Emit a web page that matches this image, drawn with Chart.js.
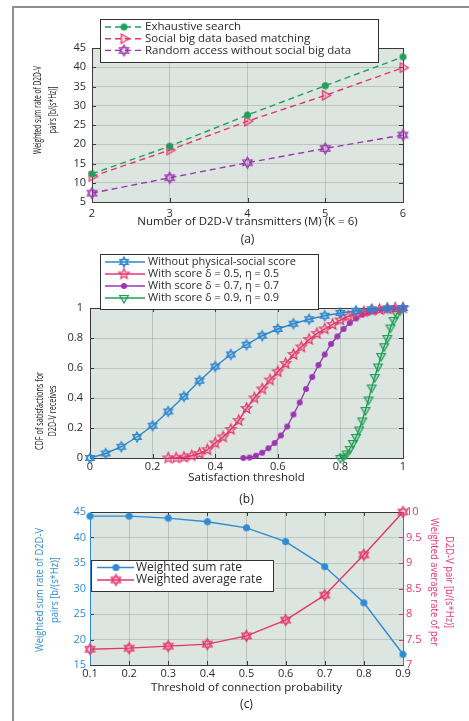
<!DOCTYPE html>
<html>
<head>
<meta charset="utf-8">
<script src="https://cdn.jsdelivr.net/npm/chart.js@4.4.0/dist/chart.umd.min.js"></script>
<style>
  html, body { margin: 0; padding: 0; background: #fff; }
  body { width: 469px; height: 721px; position: relative; overflow: hidden; }
  .frame { position: absolute; left: 12px; top: 6px; width: 470px; height: 720px;
           border-left: 2px solid #8e8e8e; border-top: 2px solid #8e8e8e; }
  canvas { position: absolute; left: 0; }
</style>
</head>
<body>
<div class="frame"></div>
<canvas id="chartA" width="469" height="250" style="top:0px"></canvas>
<canvas id="chartB" width="469" height="265" style="top:245px"></canvas>
<canvas id="chartC" width="469" height="221" style="top:500px"></canvas>
<script>
// (a) weighted sum rate vs number of transmitters
const transmitters = [2, 3, 4, 5, 6];
const exhaustiveRate = [12.3, 19.5, 27.6, 35.2, 42.7];
const socialRate = [11.6, 18.5, 26.0, 32.7, 39.9];
const randomRate = [7.3, 11.3, 15.2, 18.9, 22.4];

// (b) CDF of satisfaction
const thrNoScore = [0, 0.05, 0.1, 0.15, 0.2, 0.25, 0.3, 0.35, 0.4, 0.45, 0.5, 0.55, 0.6, 0.65, 0.7, 0.75, 0.8, 0.85, 0.9, 0.95, 1];
const cdfNoScore = [0, 0.03, 0.075, 0.14, 0.215, 0.31, 0.41, 0.515, 0.61, 0.69, 0.755, 0.815, 0.86, 0.895, 0.925, 0.948, 0.967, 0.982, 0.992, 0.998, 1];
const thrScore05 = [0.25, 0.275, 0.3, 0.325, 0.35, 0.375, 0.4, 0.425, 0.45, 0.475, 0.5, 0.525, 0.55, 0.575, 0.6, 0.625, 0.65, 0.675, 0.7, 0.725, 0.75, 0.775, 0.8, 0.825, 0.85, 0.875, 0.9, 0.925, 0.95, 0.975, 1];
const cdfScore05 = [0, 0, 0.005, 0.015, 0.03, 0.055, 0.1, 0.14, 0.19, 0.25, 0.33, 0.4, 0.46, 0.52, 0.575, 0.63, 0.69, 0.74, 0.79, 0.83, 0.86, 0.89, 0.92, 0.945, 0.96, 0.975, 0.985, 0.99, 0.995, 1, 1];
const thrScore07 = [0.49, 0.51, 0.53, 0.55, 0.57, 0.59, 0.61, 0.63, 0.65, 0.67, 0.69, 0.71, 0.73, 0.75, 0.77, 0.79, 0.81, 0.83, 0.85, 0.87, 0.89, 0.91, 0.93, 0.95, 0.97, 0.99, 1];
const cdfScore07 = [0, 0.003, 0.015, 0.035, 0.065, 0.1, 0.15, 0.21, 0.29, 0.37, 0.46, 0.54, 0.62, 0.69, 0.76, 0.81, 0.86, 0.9, 0.93, 0.955, 0.97, 0.98, 0.99, 0.995, 1, 1, 1];
const thrScore09 = [0.8, 0.81, 0.82, 0.83, 0.84, 0.85, 0.86, 0.87, 0.88, 0.89, 0.9, 0.91, 0.92, 0.93, 0.94, 0.95, 0.96, 0.97, 0.98, 0.99, 1];
const cdfScore09 = [0, 0.01, 0.03, 0.06, 0.1, 0.14, 0.19, 0.25, 0.32, 0.39, 0.47, 0.54, 0.61, 0.68, 0.745, 0.8, 0.87, 0.92, 0.96, 0.985, 1];

// (c) rates vs threshold of connection probability
const connThreshold = ['0.1', '0.2', '0.3', '0.4', '0.5', '0.6', '0.7', '0.8', '0.9'];
const sumRate = [44.2, 44.2, 43.8, 43.1, 41.9, 39.2, 34.3, 27.2, 17.1];
const avgRate = [7.31, 7.33, 7.37, 7.41, 7.57, 7.88, 8.37, 9.16, 10.0];

const FONT = "'Open Sans', 'Noto Sans', sans-serif";
Chart.defaults.font.family = FONT;
Chart.defaults.color = '#2b2b2b';

const GREEN = '#1f9f57', PINK = '#e6356c', PURPLE = '#9a37b0', BLUE = '#2f87cf';
const BLUE_C = '#2f8bd3', PINK_C = '#e6356c';

function polygon(g, pts) {
  pts.forEach((p, i) => i ? g.lineTo(p[0], p[1]) : g.moveTo(p[0], p[1]));
  g.closePath();
}
function triangle(g, r, a) {
  const pts = [];
  for (let k = 0; k < 3; k++) {
    const t = a + k * 2 * Math.PI / 3;
    pts.push([r * Math.cos(t), r * Math.sin(t)]);
  }
  polygon(g, pts);
}

// marker images used as pointStyle
function makeMarker(shape, color, r, filled) {
  const s = Math.ceil(r * 2 + 4);
  const c = document.createElement('canvas');
  c.width = s; c.height = s;
  const g = c.getContext('2d');
  g.translate(s / 2, s / 2);
  g.beginPath();
  if (shape === 'circle') g.arc(0, 0, r, 0, Math.PI * 2);
  else if (shape === 'triRight') triangle(g, r, 0);
  else if (shape === 'triDown') triangle(g, r, Math.PI / 2);
  else if (shape === 'hexagram') { triangle(g, r, -Math.PI / 2); triangle(g, r, Math.PI / 2); }
  else if (shape === 'pentagram') {
    const pts = [];
    for (let k = 0; k < 10; k++) {
      const t = -Math.PI / 2 + k * Math.PI / 5;
      const rr = k % 2 ? r * 0.45 : r;
      pts.push([rr * Math.cos(t), rr * Math.sin(t)]);
    }
    polygon(g, pts);
  }
  g.fillStyle = color;
  g.strokeStyle = color;
  g.lineWidth = 1.2;
  if (filled) {
    g.fill();
  } else {
    g.globalAlpha = 0.2;
    g.fill();
    g.globalAlpha = 1;
    g.stroke();
  }
  return c;
}

// plot background, box, inner ticks, squeezed y titles and a legend inside the figure
const plotFrame = {
  id: 'plotFrame',
  beforeDraw(chart) {
    const { ctx, chartArea: a } = chart;
    ctx.save();
    ctx.fillStyle = '#dde5e1';
    ctx.fillRect(a.left, a.top, a.width, a.height);
    ctx.restore();
  },
  beforeDatasetsDraw(chart) {
    const { ctx, chartArea: a, scales } = chart;
    ctx.save();
    ctx.lineWidth = 1;
    ctx.strokeStyle = '#3a3a3a';
    ctx.beginPath();
    scales.x.ticks.forEach((t, i) => {
      const px = Math.round(scales.x.getPixelForTick(i)) + 0.5;
      ctx.moveTo(px, a.bottom); ctx.lineTo(px, a.bottom - 4);
      ctx.moveTo(px, a.top); ctx.lineTo(px, a.top + 4);
    });
    const twin = !!scales.y2;
    scales.y.ticks.forEach((t, i) => {
      const py = Math.round(scales.y.getPixelForTick(i)) + 0.5;
      ctx.moveTo(a.left, py); ctx.lineTo(a.left + 4, py);
      if (!twin) { ctx.moveTo(a.right, py); ctx.lineTo(a.right - 4, py); }
    });
    ctx.stroke();
    if (twin) {
      ctx.beginPath();
      ctx.strokeStyle = scales.y2.options.ticks.color;
      scales.y2.ticks.forEach((t, i) => {
        const py = Math.round(scales.y2.getPixelForTick(i)) + 0.5;
        ctx.moveTo(a.right, py); ctx.lineTo(a.right - 4, py);
      });
      ctx.stroke();
    }
    ctx.strokeStyle = '#3a3a3a';
    ctx.strokeRect(Math.round(a.left) + 0.5, Math.round(a.top) + 0.5, Math.round(a.width), Math.round(a.height));
    if (twin) {
      ctx.strokeStyle = scales.y.options.ticks.color;
      ctx.beginPath(); ctx.moveTo(Math.round(a.left) + 0.5, a.top); ctx.lineTo(Math.round(a.left) + 0.5, a.bottom); ctx.stroke();
      ctx.strokeStyle = scales.y2.options.ticks.color;
      ctx.beginPath(); ctx.moveTo(Math.round(a.right) + 0.5, a.top); ctx.lineTo(Math.round(a.right) + 0.5, a.bottom); ctx.stroke();
    }
    ctx.restore();
  },
  afterDraw(chart, args, opts) {
    const ctx = chart.ctx;
    // condensed rotated axis titles
    (opts.yTitles || []).forEach((t) => {
      ctx.save();
      ctx.font = '11px ' + FONT;
      ctx.fillStyle = t.color;
      ctx.textAlign = 'center';
      ctx.textBaseline = 'middle';
      const k = t.length / ctx.measureText(t.lines[0]).width;
      t.lines.forEach((line, i) => {
        ctx.save();
        ctx.translate(t.x[i], t.cy);
        ctx.rotate(t.rot);
        ctx.scale(k, 1);
        ctx.fillText(line, 0, 0);
        ctx.restore();
      });
      ctx.restore();
    });
    const lg = opts.legend;
    if (!lg) return;
    const [x0, y0, x1, y1] = lg.box;
    ctx.save();
    ctx.fillStyle = '#fff';
    ctx.fillRect(x0, y0, x1 - x0, y1 - y0);
    ctx.strokeStyle = '#333';
    ctx.lineWidth = 1;
    ctx.strokeRect(x0 + 0.5, y0 + 0.5, x1 - x0, y1 - y0);
    ctx.font = lg.font;
    ctx.textBaseline = 'middle';
    chart.data.datasets.forEach((ds, i) => {
      const y = lg.firstRow + i * lg.rowGap;
      ctx.strokeStyle = ds.borderColor;
      ctx.lineWidth = ds.borderWidth;
      ctx.setLineDash(ds.borderDash || []);
      ctx.beginPath(); ctx.moveTo(lg.lineX[0], y); ctx.lineTo(lg.lineX[1], y); ctx.stroke();
      ctx.setLineDash([]);
      const img = ds.pointStyle;
      ctx.drawImage(img, lg.markerX - img.width / 2, y - img.height / 2);
      ctx.fillStyle = '#2b2b2b';
      ctx.fillText(ds.label, lg.textX, y);
    });
    ctx.restore();
  }
};

function grid() {
  return { color: 'rgba(110,122,116,0.3)', lineWidth: 1, drawTicks: false };
}
function caption(text, padBottom) {
  return { display: true, text: text, position: 'bottom', fullSize: false, color: '#222',
           font: { size: 12, weight: 'normal', lineHeight: 1.2 }, padding: { top: 0, bottom: padBottom } };
}
function plainNumber(v) {
  return String(Math.round(v * 100) / 100);
}
function points(xs, ys) {
  return xs.map((x, i) => ({ x: x, y: ys[i] }));
}
function series(label, data, color, marker, dashed) {
  return { label: label, data: data, borderColor: color, backgroundColor: color, borderWidth: 1.4,
           borderDash: dashed ? [6, 4] : [], pointStyle: marker, pointRadius: 4, tension: 0,
           fill: false, clip: false };
}

// (a)
new Chart(document.getElementById('chartA'), {
  type: 'line',
  data: {
    datasets: [
      series('Exhaustive search', points(transmitters, exhaustiveRate), GREEN, makeMarker('circle', GREEN, 3.5, true), true),
      series('Social big data based matching', points(transmitters, socialRate), PINK, makeMarker('triRight', PINK, 5.5, false), true),
      series('Random access without social big data', points(transmitters, randomRate), PURPLE, makeMarker('hexagram', PURPLE, 5.5, false), true)
    ]
  },
  options: {
    responsive: false, animation: false, events: [], devicePixelRatio: 1,
    layout: { padding: { top: 48, right: 66, left: 0, bottom: 0 } },
    plugins: {
      legend: { display: false },
      title: caption('(a)', 2.8),
      plotFrame: {
        legend: { box: [100, 19, 378, 62], firstRow: 27, rowGap: 11.7, lineX: [105, 142],
                  markerX: 124, textX: 145, font: "11.5px " + FONT },
        yTitles: [{ lines: ['Weighted sum rate of D2D-V', 'pairs [b/(s*Hz)]'], x: [38, 53], cy: 110,
                    rot: -Math.PI / 2, length: 88, color: '#222' }]
      }
    },
    scales: {
      x: {
        type: 'linear', min: 2, max: 6,
        ticks: { stepSize: 1, padding: 5, font: { size: 11 }, color: '#2b2b2b' },
        grid: grid(), border: { display: false },
        title: { display: true, text: 'Number of D2D-V transmitters (M) (K = 6)', color: '#222',
                 font: { size: 11.5, lineHeight: 1.2 }, padding: { top: 0, bottom: 3.9 } },
        afterFit(s) { s.height = 30.8; }
      },
      y: {
        min: 5, max: 45,
        ticks: { stepSize: 5, padding: 6, font: { size: 11 }, color: '#2b2b2b' },
        grid: grid(), border: { display: false },
        afterFit(s) { s.width = 92; }
      }
    }
  },
  plugins: [plotFrame]
});

// (b)
new Chart(document.getElementById('chartB'), {
  type: 'line',
  data: {
    datasets: [
      series('Without physical-social score', points(thrNoScore, cdfNoScore), BLUE, makeMarker('hexagram', BLUE, 5, false), false),
      series('With score \u03b4 = 0.5, \u03b7 = 0.5', points(thrScore05, cdfScore05), PINK, makeMarker('pentagram', PINK, 5.5, false), false),
      series('With score \u03b4 = 0.7, \u03b7 = 0.7', points(thrScore07, cdfScore07), PURPLE, makeMarker('circle', PURPLE, 3, true), false),
      series('With score \u03b4 = 0.9, \u03b7 = 0.9', points(thrScore09, cdfScore09), GREEN, makeMarker('triDown', GREEN, 5, false), false)
    ]
  },
  options: {
    responsive: false, animation: false, events: [], devicePixelRatio: 1,
    layout: { padding: { top: 63, right: 66, left: 0, bottom: 0 } },
    plugins: {
      legend: { display: false },
      title: caption('(b)', 2.8),
      plotFrame: {
        legend: { box: [100, 9, 318, 64], firstRow: 17, rowGap: 12, lineX: [105, 145],
                  markerX: 124, textX: 148, font: "11px " + FONT },
        yTitles: [{ lines: ['CDF of satisfactions for', 'D2D-V receives'], x: [40, 53], cy: 166,
                    rot: -Math.PI / 2, length: 78, color: '#222' }]
      }
    },
    scales: {
      x: {
        type: 'linear', min: 0, max: 1,
        ticks: { stepSize: 0.2, padding: 2, font: { size: 11 }, color: '#2b2b2b', callback: plainNumber },
        grid: grid(), border: { display: false },
        title: { display: true, text: 'Satisfaction threshold', color: '#222',
                 font: { size: 11.5, lineHeight: 1.2 }, padding: { top: 0, bottom: 7.9 } },
        afterFit(s) { s.height = 34.8; }
      },
      y: {
        min: 0, max: 1,
        ticks: { stepSize: 0.2, padding: 7, font: { size: 11 }, color: '#2b2b2b', callback: plainNumber },
        grid: grid(), border: { display: false },
        afterFit(s) { s.width = 90; }
      }
    }
  },
  plugins: [plotFrame]
});

// (c)
new Chart(document.getElementById('chartC'), {
  type: 'line',
  data: {
    labels: connThreshold,
    datasets: [
      Object.assign(series('Weighted sum rate', sumRate, BLUE_C, makeMarker('circle', BLUE_C, 3.5, true), false), { yAxisID: 'y' }),
      Object.assign(series('Weighted average rate', avgRate, PINK_C, makeMarker('hexagram', PINK_C, 5.5, false), false), { yAxisID: 'y2' })
    ]
  },
  options: {
    responsive: false, animation: false, events: [], devicePixelRatio: 1,
    layout: { padding: { top: 12, right: 0, left: 0, bottom: 0 } },
    plugins: {
      legend: { display: false },
      title: caption('(c)', 8.8),
      plotFrame: {
        legend: { box: [91, 60, 273, 91], firstRow: 67.5, rowGap: 12.5, lineX: [97, 134],
                  markerX: 116, textX: 136, font: "12px " + FONT },
        yTitles: [
          { lines: ['Weighted sum rate of D2D-V', 'pairs [b/(s*Hz)]'], x: [40, 55], cy: 90,
            rot: -Math.PI / 2, length: 124, color: BLUE_C },
          { lines: ['Weighted average rate of per', 'D2D-V pair [b/(s*Hz)]'], x: [434, 449], cy: 82,
            rot: Math.PI / 2, length: 128, color: PINK_C }
        ]
      }
    },
    scales: {
      x: {
        type: 'category', offset: false,
        ticks: { padding: 2, font: { size: 11 }, color: '#2b2b2b' },
        grid: grid(), border: { display: false },
        title: { display: true, text: 'Threshold of connection probability', color: '#222',
                 font: { size: 11.5, lineHeight: 1.2 }, padding: { top: 0, bottom: 2.9 } },
        afterFit(s) { s.height = 32.8; }
      },
      y: {
        position: 'left', min: 15, max: 45,
        ticks: { stepSize: 5, padding: 4, font: { size: 11 }, color: BLUE_C },
        grid: grid(), border: { display: false },
        afterFit(s) { s.width = 90; }
      },
      y2: {
        position: 'right', min: 7, max: 10,
        ticks: { stepSize: 0.5, padding: 3, font: { size: 11 }, color: PINK_C, callback: plainNumber },
        grid: { display: false, drawTicks: false }, border: { display: false },
        afterFit(s) { s.width = 66; }
      }
    }
  },
  plugins: [plotFrame]
});
</script>
</body>
</html>
